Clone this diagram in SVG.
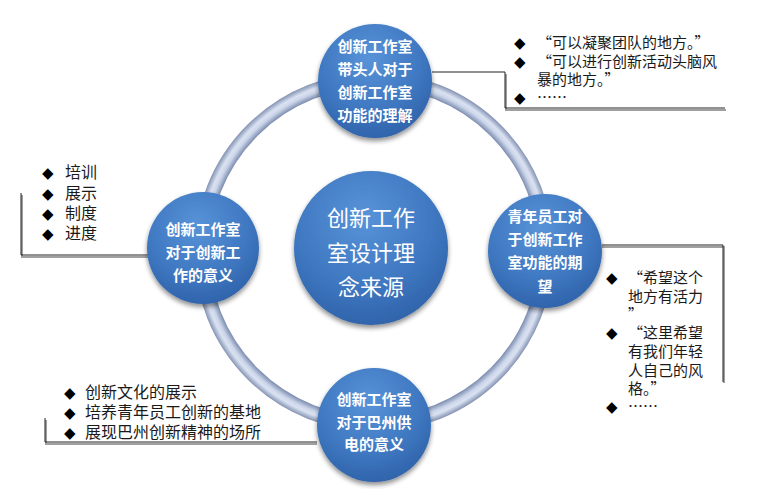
<svg xmlns="http://www.w3.org/2000/svg" width="764" height="489" viewBox="0 0 764 489">
<defs>
  <radialGradient id="ringG" gradientUnits="userSpaceOnUse" cx="374" cy="252" r="180">
    <stop offset="0.915" stop-color="#8090b2"/>
    <stop offset="0.945" stop-color="#ccd6ea"/>
    <stop offset="0.965" stop-color="#dae2f2"/>
    <stop offset="1" stop-color="#7c8cad"/>
  </radialGradient>
  <radialGradient id="nodeG" cx="0.45" cy="0.3" r="0.75">
    <stop offset="0" stop-color="#5893d8"/>
    <stop offset="0.6" stop-color="#3f78c1"/>
    <stop offset="1" stop-color="#2d60a7"/>
  </radialGradient>
  <filter id="sh" x="-20%" y="-20%" width="140%" height="150%">
    <feGaussianBlur in="SourceAlpha" stdDeviation="2.5"/>
    <feOffset dy="3" result="b"/>
    <feComponentTransfer><feFuncA type="linear" slope="0.45"/></feComponentTransfer>
    <feMerge><feMergeNode/><feMergeNode in="SourceGraphic"/></feMerge>
  </filter>
</defs>
<style>
  .node{fill:url(#nodeG);filter:url(#sh);}
  .nt{font-family:"Noto Sans CJK SC","Microsoft YaHei",sans-serif;font-weight:bold;font-size:15px;fill:#ffffff;text-anchor:middle;}
  .ct{font-family:"Noto Sans CJK SC",sans-serif;font-size:22px;fill:#ffffff;text-anchor:middle;}
  .lt{font-family:"Noto Sans CJK SC",sans-serif;fill:#1a1a1a;}
  .b{font-family:"DejaVu Sans",sans-serif;font-size:15px;fill:#000;}
  .ln{fill:none;stroke:#222;stroke-width:1;}
  .lsh{fill:none;stroke:#a0a0a0;stroke-width:2;}
</style>

<g id="ring">
  <circle cx="374" cy="252" r="172" fill="none" stroke="url(#ringG)" stroke-width="15"/>
</g>

<g id="connectors">
  <polyline class="lsh" points="506,74 506,110 726,110"/>
  <polyline class="ln" points="432,72 505,72 505,108 725,108"/>
  <polyline class="lsh" points="22,195 22,257 148,257"/>
  <polyline class="ln" points="21,193 21,255 148,255"/>
  <polyline class="lsh" points="602,247 724,247 724,383"/>
  <polyline class="ln" points="602,245 723,245 723,382"/>
  <polyline class="lsh" points="46,420 46,444 317,444"/>
  <polyline class="ln" points="45,418 45,442 317,442"/>
</g>

<g id="node-center">
  <circle class="node" cx="371" cy="248" r="77"/>
  <text class="ct" x="371" y="226">创新工作</text>
  <text class="ct" x="371" y="261">室设计理</text>
  <text class="ct" x="371" y="295">念来源</text>
</g>

<g id="node-top">
  <circle class="node" cx="375" cy="81" r="57"/>
  <text class="nt" x="375" y="52">创新工作室</text>
  <text class="nt" x="375" y="75">带头人对于</text>
  <text class="nt" x="375" y="98">创新工作室</text>
  <text class="nt" x="375" y="121">功能的理解</text>
</g>

<g id="node-left">
  <circle class="node" cx="203" cy="248" r="56"/>
  <text class="nt" x="203" y="235">创新工作室</text>
  <text class="nt" x="203" y="258">对于创新工</text>
  <text class="nt" x="203" y="281">作的意义</text>
</g>

<g id="node-right">
  <circle class="node" cx="545" cy="251" r="57"/>
  <text class="nt" x="545" y="222">青年员工对</text>
  <text class="nt" x="545" y="245">于创新工作</text>
  <text class="nt" x="545" y="268">室功能的期</text>
  <text class="nt" x="545" y="292">望</text>
</g>

<g id="node-bottom">
  <circle class="node" cx="374" cy="425" r="57"/>
  <text class="nt" x="374" y="405">创新工作室</text>
  <text class="nt" x="374" y="428">对于巴州供</text>
  <text class="nt" x="374" y="450">电的意义</text>
</g>

<g id="list-top-right" class="lt" font-size="15">
  <text y="48"><tspan class="b" x="514">◆</tspan><tspan x="537">“可以凝聚团队的地方。”</tspan></text>
  <text y="67"><tspan class="b" x="514">◆</tspan><tspan x="537">“可以进行创新活动头脑风</tspan></text>
  <text x="537" y="85">暴的地方。”</text>
  <text y="103"><tspan class="b" x="514">◆</tspan><tspan x="537">……</tspan></text>
</g>

<g id="list-left" class="lt" font-size="16">
  <text y="178"><tspan class="b" x="42">◆</tspan><tspan x="65">培训</tspan></text>
  <text y="199"><tspan class="b" x="42">◆</tspan><tspan x="65">展示</tspan></text>
  <text y="219"><tspan class="b" x="42">◆</tspan><tspan x="65">制度</tspan></text>
  <text y="239"><tspan class="b" x="42">◆</tspan><tspan x="65">进度</tspan></text>
</g>

<g id="list-right" class="lt" font-size="15">
  <text y="283"><tspan class="b" x="606">◆</tspan><tspan x="628">“希望这个</tspan></text>
  <text x="628" y="302">地方有活力</text>
  <text x="628" y="320">”</text>
  <text y="338"><tspan class="b" x="606">◆</tspan><tspan x="628">“这里希望</tspan></text>
  <text x="628" y="357">有我们年轻</text>
  <text x="628" y="376">人自己的风</text>
  <text x="628" y="394">格。”</text>
  <text y="412"><tspan class="b" x="606">◆</tspan><tspan x="628">……</tspan></text>
</g>

<g id="list-bottom-left" class="lt" font-size="16">
  <text y="398"><tspan class="b" x="64">◆</tspan><tspan x="85">创新文化的展示</tspan></text>
  <text y="418"><tspan class="b" x="64">◆</tspan><tspan x="85">培养青年员工创新的基地</tspan></text>
  <text y="438"><tspan class="b" x="64">◆</tspan><tspan x="85">展现巴州创新精神的场所</tspan></text>
</g>
</svg>
